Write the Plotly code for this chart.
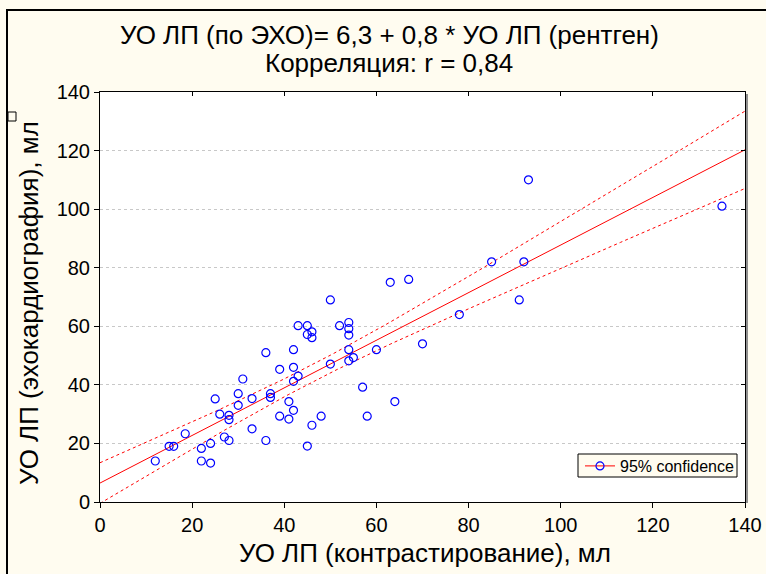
import numpy as np
import plotly.graph_objects as go

# Data
x_vals = [12, 15, 16, 18.5, 22, 22, 24, 24, 25, 26, 27, 28, 28, 28, 30, 30, 31, 33, 33,
          36, 36, 37, 37, 39, 39, 41, 41, 42, 42, 42, 42, 43, 43, 45, 45, 46, 46, 46, 45,
          48, 50, 50, 52, 54, 54, 54, 54, 54, 55, 57, 58, 60, 63, 64, 67, 70, 78, 85, 91,
          92, 93, 135]
y_vals = [14, 19, 19, 23.3, 18.3, 14, 20, 13.3, 35.2, 30, 22.2, 21, 29.6, 28.1, 37, 33, 42,
          35.3, 25, 51, 21, 37, 35.7, 45.3, 29.3, 34.3, 28.3, 31.3, 52, 46, 41.2, 43, 60.2,
          60.2, 57.2, 58.1, 56.1, 26.2, 19.1, 29.3, 69, 47.1, 60.2, 61.3, 59.2, 57, 52, 48.2,
          49.3, 39.2, 29.3, 52, 75, 34.3, 76, 54, 64, 82, 69, 82, 110, 101]

title_line1 = "УО ЛП (по ЭХО)= 6,3 + 0,8 * УО ЛП (рентген)"
title_line2 = "Корреляция: r = 0,84"
x_title = "УО ЛП (контрастирование), мл"
y_title = "УО ЛП (эхокардиография), мл"
legend_label = "95% confidence"
t_crit = 2.0

x = np.array(x_vals, dtype=float)
y = np.array(y_vals, dtype=float)
n = len(x)
slope, intercept = np.polyfit(x, y, 1)
resid = y - (slope * x + intercept)
s = np.sqrt(np.sum(resid ** 2) / (n - 2))
xbar = x.mean()
sxx = np.sum((x - xbar) ** 2)
xl = np.linspace(0, 140, 141)
yl = intercept + slope * xl
half = t_crit * s * np.sqrt(1.0 / n + (xl - xbar) ** 2 / sxx)

BG = "#fffcf0"
FONT = "Liberation Sans, Arial, sans-serif"
L, R, T, B = 100, 21, 92, 72
W, H = 766, 574
PW, PH = W - L - R, H - T - B


def px(xp):
    return (xp - L) / PW


def py(yp):
    return (H - B - yp) / PH


fig = go.Figure()
fig.add_trace(go.Scatter(x=xl, y=yl, mode="lines", line=dict(color="#ff0000", width=1),
                         showlegend=False, hoverinfo="skip"))
fig.add_trace(go.Scatter(x=xl, y=yl + half, mode="lines",
                         line=dict(color="#ff0000", width=1, dash="3px,3px"),
                         showlegend=False, hoverinfo="skip"))
fig.add_trace(go.Scatter(x=xl, y=yl - half, mode="lines",
                         line=dict(color="#ff0000", width=1, dash="3px,3px"),
                         showlegend=False, hoverinfo="skip"))
fig.add_trace(go.Scatter(x=x_vals, y=y_vals, mode="markers",
                         marker=dict(symbol="circle-open", size=8, color="#0000ff",
                                     line=dict(width=1.2, color="#0000ff")),
                         showlegend=False))
fig.add_trace(go.Scatter(x=[None], y=[None], mode="lines+markers", name=legend_label,
                         line=dict(color="#ff0000", width=1),
                         marker=dict(symbol="circle-open", size=8, color="#0000ff",
                                     line=dict(width=1.2, color="#0000ff"))))
# mirror axes with inside ticks (right / top)
fig.add_trace(go.Scatter(x=[None], y=[None], xaxis="x2", yaxis="y2", showlegend=False,
                         hoverinfo="skip"))

axis_common = dict(range=[0, 140], dtick=20, showline=True, linecolor="black", linewidth=1,
                   ticks="outside", ticklen=5, tickcolor="black", zeroline=False,
                   automargin=False,
                   tickfont=dict(family=FONT, size=20, color="black"))

fig.update_layout(
    width=W, height=H,
    margin=dict(l=L, r=R, t=T, b=B, pad=0, autoexpand=False),
    paper_bgcolor=BG, plot_bgcolor="white",
    font=dict(family=FONT, color="black"),
    xaxis=dict(**axis_common, showgrid=False),
    yaxis=dict(**axis_common, showgrid=True, gridcolor="#c8c8c8", griddash="dot", gridwidth=1),
    xaxis2=dict(range=[0, 140], dtick=20, overlaying="x", side="top", showline=True,
                linecolor="black", linewidth=1, ticks="inside", ticklen=4, tickcolor="black",
                showticklabels=False, showgrid=False, zeroline=False, automargin=False),
    yaxis2=dict(range=[0, 140], dtick=20, overlaying="y", side="right", showline=True,
                linecolor="black", linewidth=1, ticks="inside", ticklen=4, tickcolor="black",
                showticklabels=False, showgrid=False, zeroline=False, automargin=False),
    legend=dict(x=px(580), y=py(466), xanchor="left", yanchor="middle",
                bgcolor="rgba(0,0,0,0)", borderwidth=0,
                font=dict(family=FONT, size=16, color="black"),
                itemwidth=30, tracegroupgap=0),
    showlegend=True,
)

annots = [
    dict(text=title_line1, x=px(389), y=py(35), font=dict(size=26)),
    dict(text=title_line2, x=px(389), y=py(63), font=dict(size=26)),
    dict(text=x_title, x=px(425), y=py(553), font=dict(size=26)),
    dict(text=y_title, x=px(29), y=py(303), font=dict(size=26), textangle=-90),
]
for a in annots:
    fig.add_annotation(xref="paper", yref="paper", showarrow=False, xanchor="center",
                       yanchor="middle", font_family=FONT, font_color="black",
                       **{k: v for k, v in a.items()})

shapes = [
    # outer window frame
    dict(type="line", x0=px(7), x1=px(7), y0=py(9), y1=py(580), line=dict(color="black", width=2)),
    dict(type="line", x0=px(6), x1=px(770), y0=py(10), y1=py(10), line=dict(color="black", width=2)),
    # plot shadow on right
    dict(type="line", x0=px(747), x1=px(747), y0=py(94), y1=py(503), line=dict(color="#909090", width=2)),
    # small icon at left
    dict(type="rect", x0=px(8), x1=px(16), y0=py(112), y1=py(121),
         line=dict(color="black", width=1), fillcolor=BG),
    # legend box
    dict(type="rect", x0=px(578), x1=px(737), y0=py(454), y1=py(477),
         line=dict(color="black", width=1), fillcolor=BG, layer="above"),
]
for sh in shapes:
    fig.add_shape(xref="paper", yref="paper", **sh)

fig.write_html("out.html")
